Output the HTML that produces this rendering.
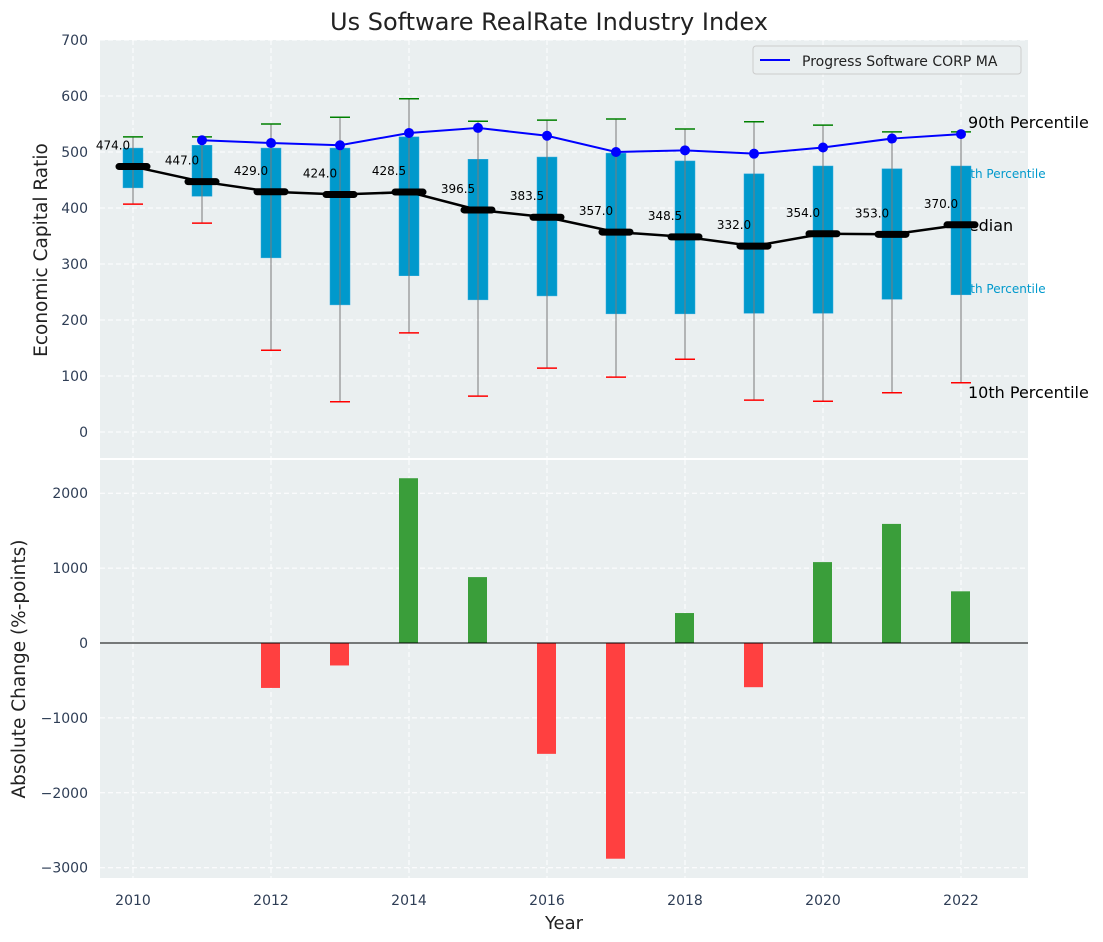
<!DOCTYPE html>
<html><head><meta charset="utf-8"><style>
body{margin:0;background:#fff;}
svg{display:block;font-family:"DejaVu Sans","Liberation Sans",sans-serif;}
</style></head><body>
<svg id="c" width="1103" height="942" xmlns="http://www.w3.org/2000/svg">
<text x="549" y="30" font-size="24" text-anchor="middle" fill="#222">Us Software RealRate Industry Index</text>
<g id="g"></g>
</svg>
<script>
const years=[2010,2011,2012,2013,2014,2015,2016,2017,2018,2019,2020,2021,2022];
const p10=[407,373,146,54,177,64,114,98,130,57,55,70,88];
const p25=[436,421,311,227,279,236,243,211,211,212,212,237,245];
const p75=[507,512,507,507,527,487,491,498,484,461,475,470,475];
const p90=[527,527,550,562,595,555,557,559,541,554,548,536,536];
const medians=[474,447,429,424,428.5,396.5,383.5,357,348.5,332,354,353,370];
const maYears=[2011,2012,2013,2014,2015,2016,2017,2018,2019,2020,2021,2022];
const maVals=[521,516,512,534,543,529,500,503,497,508,524,532];
const changes=[0,0,-600,-300,2200,880,-1480,-2880,400,-590,1080,1590,690];
const topTicks=[0,100,200,300,400,500,600,700];
const botTicks=[-3000,-2000,-1000,0,1000,2000];
const xTicks=[2010,2012,2014,2016,2018,2020,2022];

const NS="http://www.w3.org/2000/svg";
const g=document.getElementById('g');
function el(t,a,txt){const e=document.createElementNS(NS,t);for(const k in a)e.setAttribute(k,a[k]);if(txt!==undefined)e.textContent=txt;g.appendChild(e);return e;}
const L=100,R=1028;
const X=v=>133+(v-2010)*69;
const Y1=v=>432-v*0.56;
const Y2=v=>643-v*0.0749;
let e=el('rect',{x:L,y:40,width:R-L,height:418,fill:'#eaeff0'});

e=el('rect',{x:L,y:460,width:R-L,height:418,fill:'#eaeff0'});

topTicks.forEach(t=>{el('line',{x1:L,x2:R,y1:Y1(t),y2:Y1(t),stroke:'#fff','stroke-dasharray':'5,3','stroke-width':1});
 e=el('text',{x:L-12,y:Y1(t)+5,'font-size':14,'text-anchor':'end',fill:'#2e3d55'},t);
 });
botTicks.forEach(t=>{el('line',{x1:L,x2:R,y1:Y2(t),y2:Y2(t),stroke:'#fff','stroke-dasharray':'5,3','stroke-width':1});
 e=el('text',{x:L-12,y:Y2(t)+5,'font-size':14,'text-anchor':'end',fill:'#2e3d55'},t<0?'\u2212'+(-t):t);
 });
xTicks.forEach(t=>{el('line',{x1:X(t),x2:X(t),y1:40,y2:458,stroke:'#fff','stroke-dasharray':'5,3'});
 el('line',{x1:X(t),x2:X(t),y1:460,y2:878,stroke:'#fff','stroke-dasharray':'5,3'});
 e=el('text',{x:X(t),y:905,'font-size':14,'text-anchor':'middle',fill:'#2e3d55'},t);
 });
const lx=X(2022);
el('text',{x:lx+7,y:128,'font-size':16,fill:'#000'},'90th Percentile');
el('text',{x:lx-6,y:178,'font-size':12,fill:'#0099cc'},'75th Percentile');
el('text',{x:lx-6,y:231,'font-size':16,fill:'#000'},'Median');
el('text',{x:lx-6,y:293,'font-size':12,fill:'#0099cc'},'25th Percentile');
el('text',{x:lx+7,y:398,'font-size':16,fill:'#000'},'10th Percentile');
years.forEach((y,i)=>{const x=X(y);
 e=el('rect',{x:x-10,y:Y1(p75[i]),width:20,height:Y1(p25[i])-Y1(p75[i]),fill:'#0099cc',stroke:'#33aadd','stroke-width':0.5});
 
 el('line',{x1:x,x2:x,y1:Y1(p10[i]),y2:Y1(p90[i]),stroke:'#7a7a7a','stroke-width':1});
 el('line',{x1:x-10,x2:x+10,y1:Y1(p90[i]),y2:Y1(p90[i]),stroke:'green','stroke-width':1.5});
 el('line',{x1:x-10,x2:x+10,y1:Y1(p10[i]),y2:Y1(p10[i]),stroke:'red','stroke-width':1.5});
});
el('polyline',{points:years.map((y,i)=>X(y)+','+Y1(medians[i])).join(' '),fill:'none',stroke:'#000','stroke-width':2.5});
years.forEach((y,i)=>{
 e=el('line',{x1:X(y)-14,x2:X(y)+14,y1:Y1(medians[i]),y2:Y1(medians[i]),stroke:'#000','stroke-width':7,'stroke-linecap':'round'});
 
 el('text',{x:X(y)-20,y:Y1(medians[i])-17,'font-size':12,'text-anchor':'middle',fill:'#000'},medians[i].toFixed(1));
});
el('polyline',{points:maYears.map((y,i)=>X(y)+','+Y1(maVals[i])).join(' '),fill:'none',stroke:'blue','stroke-width':2});
maYears.forEach((y,i)=>{e=el('circle',{cx:X(y),cy:Y1(maVals[i]),r:5,fill:'blue'});
 });
e=el('rect',{x:753,y:46,width:268,height:28,rx:3,fill:'#eaeff0',stroke:'#ccc'});

el('line',{x1:760,x2:790,y1:60,y2:60,stroke:'blue','stroke-width':2});
el('text',{x:802,y:66,'font-size':14,fill:'#222'},'Progress Software CORP MA');
years.forEach((y,i)=>{const v=changes[i];if(!v)return;
 e=el('rect',{x:X(y)-10,y:Math.min(Y2(v),Y2(0)),width:19,height:Math.abs(Y2(v)-Y2(0)),fill:v>0?'#3a9e3a':'#ff4040'});
 });
el('line',{x1:L,x2:R,y1:Y2(0),y2:Y2(0),stroke:'#000','stroke-width':1});
e=el('text',{x:0,y:0,'font-size':18.5,'text-anchor':'middle',fill:'#222',transform:'translate(47,250) rotate(-90)'},'Economic Capital Ratio');

e=el('text',{x:0,y:0,'font-size':18.5,'text-anchor':'middle',fill:'#222',transform:'translate(25,669) rotate(-90)'},'Absolute Change (%-points)');

e=el('text',{x:564,y:929,'font-size':18,'text-anchor':'middle',fill:'#222'},'Year');

</script>
</body></html>
